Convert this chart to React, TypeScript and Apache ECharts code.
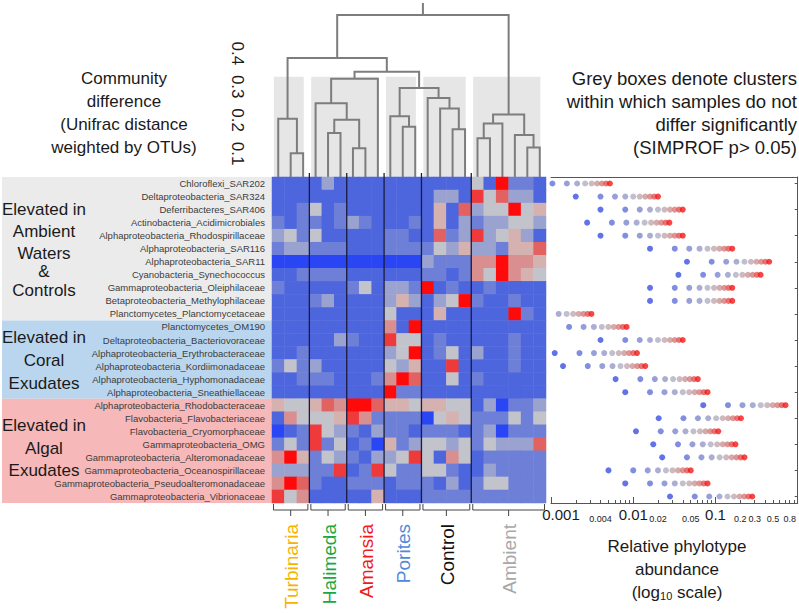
import React, { useEffect, useRef } from 'react';
import * as echarts from 'echarts';

const FONT = '"Liberation Sans", Arial, sans-serif';

// ---------- data ----------
const rowNames = [
  'Chloroflexi_SAR202', 'Deltaproteobacteria_SAR324', 'Deferribacteres_SAR406', 'Actinobacteria_Acidimicrobiales',
  'Alphaproteobacteria_Rhodospirillaceae', 'Alphaproteobacteria_SAR116', 'Alphaproteobacteria_SAR11',
  'Cyanobacteria_Synechococcus', 'Gammaproteobacteria_Oleiphilaceae', 'Betaproteobacteria_Methylophilaceae',
  'Planctomycetes_Planctomycetaceae',
  'Planctomycetes_OM190', 'Deltaproteobacteria_Bacteriovoraceae', 'Alphaproteobacteria_Erythrobacteraceae',
  'Alphaproteobacteria_Kordiimonadaceae', 'Alphaproteobacteria_Hyphomonadaceae', 'Alphaproteobacteria_Sneathiellaceae',
  'Alphaproteobacteria_Rhodobacteraceae', 'Flavobacteria_Flavobacteriaceae', 'Flavobacteria_Cryomorphaceae',
  'Gammaproteobacteria_OMG', 'Gammaproteobacteria_Alteromonadaceae', 'Gammaproteobacteria_Oceanospirillaceae',
  'Gammaproteobacteria_Pseudoalteromonadaceae', 'Gammaproteobacteria_Vibrionaceae',
];

const treatmentNames = ['Turbinaria', 'Halimeda', 'Amansia', 'Porites', 'Control', 'Ambient'];
const treatmentColors = ['#f5b400', '#1aa845', '#f01c1c', '#4f8ad8', '#111111', '#a8a8a8'];
const treatmentSizes = [3, 3, 3, 3, 4, 6];

const blockLines = [
  ['Elevated in', 'Ambient', 'Waters', '&', 'Controls'],
  ['Elevated in', 'Coral', 'Exudates'],
  ['Elevated in', 'Algal', 'Exudates'],
];
const blockRowCounts = [11, 6, 8];
const blockColors = ['#ebebeb', '#b9d6ee', '#f6b8b8'];

// heatmap levels: 1 = deep blue ... 5 = grey ... 10 = red
const ambientLevels = [
  [2, 2, 2, 2, 4, 2, 2, 2, 2, 2, 2, 2, 2, 2, 2, 2, 5, 2, 10, 3, 3, 2],
  [2, 2, 2, 2, 2, 2, 2, 2, 2, 2, 2, 2, 2, 4, 4, 2, 9, 5, 8, 4, 4, 2],
  [2, 2, 3, 5, 2, 3, 2, 2, 2, 2, 2, 2, 2, 6, 2, 8, 4, 5, 5, 10, 5, 6],
  [3, 2, 3, 3, 2, 3, 4, 3, 2, 2, 2, 3, 2, 6, 2, 4, 3, 4, 4, 5, 5, 4],
  [4, 5, 3, 5, 2, 2, 2, 2, 2, 3, 3, 2, 2, 8, 3, 4, 9, 4, 5, 6, 4, 2],
  [3, 4, 4, 3, 3, 3, 2, 2, 2, 3, 3, 3, 3, 5, 4, 6, 4, 4, 3, 6, 6, 8],
  [1, 1, 1, 1, 1, 1, 1, 1, 1, 1, 1, 1, 4, 3, 3, 3, 7, 7, 10, 7, 7, 6],
  [2, 2, 3, 3, 3, 3, 2, 2, 2, 2, 2, 2, 3, 3, 2, 3, 7, 5, 10, 7, 6, 5],
  [3, 2, 2, 2, 2, 2, 3, 5, 2, 4, 4, 3, 10, 2, 3, 2, 2, 3, 2, 2, 2, 2],
  [2, 2, 2, 3, 4, 2, 2, 2, 2, 4, 6, 4, 2, 4, 5, 10, 3, 2, 2, 3, 2, 2],
  [2, 2, 2, 2, 2, 2, 2, 2, 2, 5, 2, 2, 2, 6, 2, 2, 2, 2, 2, 10, 3, 2],
];
const coralLevels = [
  [2, 2, 2, 2, 2, 2, 2, 2, 2, 7, 2, 10, 2, 2, 2, 2, 2, 2, 2, 2, 2, 2],
  [2, 2, 2, 2, 2, 4, 3, 2, 2, 9, 5, 5, 2, 3, 2, 2, 2, 2, 2, 3, 2, 2],
  [2, 2, 3, 2, 2, 2, 2, 2, 2, 4, 5, 10, 2, 3, 5, 2, 4, 2, 2, 3, 2, 2],
  [3, 5, 3, 4, 2, 2, 2, 2, 2, 5, 4, 6, 2, 2, 9, 2, 2, 2, 2, 3, 2, 2],
  [2, 2, 3, 3, 3, 2, 2, 2, 3, 7, 10, 8, 2, 2, 5, 2, 3, 2, 2, 2, 2, 2],
  [2, 2, 2, 2, 2, 2, 2, 2, 2, 10, 3, 3, 2, 2, 2, 2, 2, 2, 2, 2, 2, 2],
];
const algalLevels = [
  [6, 5, 5, 6, 8, 7, 10, 10, 8, 6, 6, 5, 6, 6, 5, 5, 2, 4, 1, 3, 3, 4],
  [2, 7, 5, 5, 5, 6, 9, 7, 3, 3, 3, 3, 1, 5, 6, 5, 3, 3, 3, 5, 3, 5],
  [1, 2, 3, 9, 5, 4, 3, 2, 4, 3, 3, 2, 3, 3, 3, 2, 3, 4, 1, 3, 3, 3],
  [3, 5, 3, 9, 3, 5, 2, 3, 1, 6, 3, 4, 5, 5, 4, 5, 3, 5, 4, 4, 4, 8],
  [7, 10, 6, 3, 5, 4, 3, 2, 4, 4, 5, 9, 5, 2, 7, 5, 2, 3, 3, 3, 3, 3],
  [4, 4, 4, 3, 3, 9, 2, 3, 9, 5, 3, 3, 5, 5, 3, 2, 2, 4, 3, 3, 3, 3],
  [7, 10, 8, 3, 2, 2, 3, 3, 3, 2, 3, 3, 3, 2, 4, 2, 3, 5, 5, 3, 3, 3],
  [9, 5, 7, 2, 2, 2, 2, 2, 6, 2, 2, 2, 3, 3, 3, 3, 3, 3, 3, 3, 3, 3],
];
const levelColors = ['#2a46f4', '#4d65dd', '#6d7fd6', '#9aa2d0', '#c3c3cb', '#d5b1b0', '#d98f8f', '#e26262', '#ee3a3a', '#ff0a0a'];

// dendrogram merges (leaves 0..21, new nodes 22..), height = Unifrac distance
const merges: [number, number, number][] = [
  [1, 2, 0.071], [0, 22, 0.174],
  [4, 5, 0.132], [6, 7, 0.086], [24, 25, 0.171], [3, 26, 0.221], [27, 8, 0.294],
  [10, 11, 0.15], [9, 29, 0.182], [14, 15, 0.143], [13, 31, 0.205], [12, 32, 0.236], [30, 33, 0.266],
  [28, 34, 0.315], [23, 35, 0.356],
  [16, 17, 0.116], [37, 18, 0.16], [20, 21, 0.088], [19, 39, 0.126], [38, 40, 0.187],
  [36, 41, 0.485],
];
const simprofClusters = [[0, 2], [3, 8], [9, 11], [12, 15], [16, 21]];
const simprofTop = 0.3;
const dendroTicks = [0.1, 0.2, 0.3, 0.4];

// lowest relative abundance shown per row (dots run linearly from 1x to 10x)
const rowMinAbundance = [
  0.00052, 0.0020, 0.0040, 0.00275, 0.0040, 0.016, 0.045, 0.0354, 0.016, 0.016, 0.00031,
  0.00083, 0.0040, 0.00111, 0.0014, 0.0061, 0.0080,
  0.071, 0.0204, 0.0108, 0.0175, 0.0225, 0.0050, 0.0080, 0.028,
];
const dotSteps = [1, 2, 3, 4, 5, 6, 7, 8, 9, 10];
const dotColors = ['#3b50e2', '#6170d8', '#7d87d0', '#9699c8', '#afafc2', '#c2a7ae', '#cb9595', '#d67a7a', '#e35252', '#f41818'];
const abundanceLabels = [0.001, 0.004, 0.01, 0.02, 0.05, 0.1, 0.2, 0.3, 0.5, 0.8];
const abundanceMajor = [0.001, 0.01, 0.1, 1];
const abundanceMinor = [1, 2, 3, 4, 5, 6, 7, 8, 9];

// ---------- layout ----------
const HM_L = 272, HM_T = 177, HM_W = 274, HM_H = 326;
const DOT_L = 551, DECADE = 85;
const DENDRO_MAX = HM_T / 340;

export default function App() {
  const ref = useRef<HTMLDivElement>(null);
  useEffect(() => {
    if (!ref.current) return;
    const chart = echarts.init(ref.current, null, { renderer: 'svg' });

    const nCols = treatmentSizes.reduce((a, b) => a + b, 0);
    const levels = [...ambientLevels, ...coralLevels, ...algalLevels];
    const heatData: number[][] = [];
    levels.forEach((row, r) => row.forEach((v, c) => heatData.push([c, r, v])));

    const nodeX: number[] = [], nodeH: number[] = [];
    for (let i = 0; i < nCols; i++) { nodeX.push(i + 0.5); nodeH.push(0); }
    const links: number[][] = [];
    merges.forEach(([a, b, h]) => {
      links.push([nodeX[a], nodeX[b], h, nodeH[a], nodeH[b]]);
      nodeX.push((nodeX[a] + nodeX[b]) / 2);
      nodeH.push(h);
    });
    const rootX = nodeX[nodeX.length - 1], rootH = nodeH[nodeH.length - 1];

    const boundaries: number[][] = [];
    const groups: number[][] = [];
    let acc = 0;
    treatmentSizes.forEach((s, i) => {
      groups.push([acc, acc + s - 1, i]);
      acc += s;
      if (i < treatmentSizes.length - 1) boundaries.push([acc, 0]);
    });

    const dots: any[] = [];
    rowMinAbundance.forEach((m, r) => {
      dotSteps.forEach((k, i) => {
        const lx = Math.log10(m * k);
        if (lx >= -3.02) dots.push({ value: [lx, r], itemStyle: { color: dotColors[i] } });
      });
    });

    const minorTicks: number[] = [];
    for (let d = -3; d < 0; d++) abundanceMinor.forEach((k) => minorTicks.push(Math.log10(k * Math.pow(10, d))));
    minorTicks.push(0);
    const labelVals = abundanceLabels.map((v) => Math.log10(v));

    const rowH = HM_H / rowNames.length;
    const graphic: any[] = [];
    let r0 = 0;
    blockRowCounts.forEach((n, bi) => {
      const y0 = HM_T + r0 * rowH;
      graphic.push({ type: 'rect', z: -10, shape: { x: 2, y: y0, width: HM_L - 2, height: n * rowH }, style: { fill: blockColors[bi] } });
      r0 += n;
    });
    const blockTextY = [[209, 231, 253, 271, 290], [337, 360, 383], [425, 448, 470]];
    blockLines.forEach((lines, bi) => {
      lines.forEach((t, li) => {
        graphic.push({ type: 'text', x: 44, y: blockTextY[bi][li], style: { text: t, fill: '#1a1a1a', fontSize: 17, fontFamily: FONT, align: 'center', verticalAlign: 'middle' } });
      });
    });
    const leftTop = ['Community', 'difference', '(Unifrac distance', 'weighted by OTUs)'];
    leftTop.forEach((t, i) => graphic.push({ type: 'text', x: 124, y: 78 + i * 23, style: { text: t, fill: '#1a1a1a', fontSize: 17, fontFamily: FONT, align: 'center', verticalAlign: 'middle' } }));
    const rightTop = ['Grey boxes denote clusters', 'within which samples do not', 'differ significantly', '(SIMPROF p> 0.05)'];
    rightTop.forEach((t, i) => graphic.push({ type: 'text', x: 797, y: 78 + i * 23, style: { text: t, fill: '#1a1a1a', fontSize: 18.5, fontFamily: FONT, align: 'right', verticalAlign: 'middle' } }));
    graphic.push({ type: 'text', x: 677, y: 546, style: { text: 'Relative phylotype', fill: '#1a1a1a', fontSize: 17, fontFamily: FONT, align: 'center', verticalAlign: 'middle' } });
    graphic.push({ type: 'text', x: 677, y: 569, style: { text: 'abundance', fill: '#1a1a1a', fontSize: 17, fontFamily: FONT, align: 'center', verticalAlign: 'middle' } });
    graphic.push({
      type: 'text', x: 677, y: 592,
      style: {
        text: '(log{sub|10} scale)', fill: '#1a1a1a', fontSize: 17, fontFamily: FONT, align: 'center', verticalAlign: 'middle',
        rich: { sub: { fontSize: 11, fontFamily: FONT, fill: '#1a1a1a', padding: [8, 0, 0, 0] } },
      },
    });

    const option: any = {
      animation: false,
      backgroundColor: '#ffffff',
      textStyle: { fontFamily: FONT },
      grid: [
        { left: HM_L, top: 0, width: HM_W, height: HM_T },
        { left: HM_L, top: HM_T, width: HM_W, height: HM_H },
        { left: DOT_L, top: HM_T, width: DECADE * 3, height: HM_H },
      ],
      xAxis: [
        { gridIndex: 0, type: 'value', min: 0, max: nCols, show: false },
        { gridIndex: 1, type: 'category', data: Array.from({ length: nCols }, (_, i) => String(i)), show: false },
        {
          gridIndex: 2, type: 'value', min: -3, max: 0, position: 'bottom',
          axisLine: { show: true, lineStyle: { color: '#555', width: 1 } },
          axisTick: { show: true, inside: true, length: 3, customValues: minorTicks, lineStyle: { color: '#555' } },
          splitLine: { show: false },
          axisLabel: {
            show: true, margin: 4, customValues: labelVals, color: '#1a1a1a',
            formatter: (v: number) => {
              const idx = labelVals.findIndex((t) => Math.abs(t - v) < 1e-6);
              if (idx < 0) return '';
              const t = abundanceLabels[idx];
              if (idx === 0) return '{f|' + t + '}';
              return abundanceMajor.some((m) => Math.abs(m - t) < 1e-9) ? '{b|' + t + '}' : '{s|' + t + '}';
            },
            rich: {
              f: { fontSize: 15, fontFamily: FONT, color: '#1a1a1a', padding: [0, 0, 0, 20] },
              b: { fontSize: 15, fontFamily: FONT, color: '#1a1a1a' },
              s: { fontSize: 9, fontFamily: FONT, color: '#1a1a1a', lineHeight: 16, verticalAlign: 'bottom' },
            },
          },
        },
        {
          gridIndex: 2, type: 'value', min: -3, max: 0, position: 'bottom',
          axisLine: { show: false }, axisLabel: { show: false }, splitLine: { show: false },
          axisTick: { show: true, inside: true, length: 6, customValues: abundanceMajor.map((v) => Math.log10(v)), lineStyle: { color: '#555' } },
        },
        {
          gridIndex: 2, type: 'value', min: -3, max: 0, position: 'top',
          axisLine: { show: true, lineStyle: { color: '#555' } }, axisTick: { show: false }, axisLabel: { show: false }, splitLine: { show: false },
        },
      ],
      yAxis: [
        {
          gridIndex: 0, type: 'value', min: 0, max: DENDRO_MAX, interval: 0.1,
          axisLine: { show: false }, axisTick: { show: false }, splitLine: { show: false },
          axisLabel: {
            rotate: -90, margin: 26, fontSize: 17, color: '#1a1a1a', fontFamily: FONT, padding: [0, 0, 0, 20],
            formatter: (v: number) => {
              const m = dendroTicks.find((t) => Math.abs(t - v) < 1e-6);
              return m !== undefined ? m.toFixed(1) : '';
            },
          },
        },
        {
          gridIndex: 1, type: 'category', data: rowNames, inverse: true,
          axisLine: { show: false }, axisTick: { show: false },
          axisLabel: { fontSize: 9.5, color: '#3c3c3c', margin: 7, fontFamily: FONT },
        },
        {
          gridIndex: 2, type: 'category', data: rowNames, inverse: true,
          axisLine: { show: true, lineStyle: { color: '#555' } },
          axisTick: { show: true, length: 3, alignWithLabel: true, lineStyle: { color: '#555' } },
          axisLabel: { show: false },
        },
      ],
      visualMap: {
        type: 'continuous', show: false, min: 1, max: 10, seriesIndex: 3, dimension: 2,
        inRange: { color: levelColors },
      },
      series: [
        {
          type: 'custom', xAxisIndex: 0, yAxisIndex: 0, z: 1,
          data: simprofClusters.map(([a, b]) => [a, b]),
          renderItem: (_p: any, api: any) => {
            const a = api.value(0), b = api.value(1);
            const p0 = api.coord([a + 0.15, simprofTop]);
            const p1 = api.coord([b + 0.55, 0]);
            return { type: 'rect', shape: { x: p0[0], y: p0[1], width: p1[0] - p0[0], height: p1[1] - p0[1] }, style: { fill: '#e6e6e6' } };
          },
        },
        {
          type: 'custom', xAxisIndex: 0, yAxisIndex: 0, z: 2,
          data: links,
          renderItem: (_p: any, api: any) => {
            const xl = api.value(0), xr = api.value(1), h = api.value(2), hl = api.value(3), hr = api.value(4);
            return {
              type: 'polyline',
              shape: { points: [api.coord([xl, hl]), api.coord([xl, h]), api.coord([xr, h]), api.coord([xr, hr])] },
              style: { stroke: '#7d7d7d', lineWidth: 2, fill: 'none' },
            };
          },
        },
        {
          type: 'line', xAxisIndex: 0, yAxisIndex: 0, z: 2, symbol: 'none',
          data: [[rootX, rootH], [rootX, DENDRO_MAX]],
          lineStyle: { color: '#7d7d7d', width: 2 },
        },
        {
          type: 'heatmap', xAxisIndex: 1, yAxisIndex: 1, data: heatData,
          itemStyle: { borderWidth: 0 },
        },
        {
          type: 'custom', xAxisIndex: 1, yAxisIndex: 1, z: 5,
          data: boundaries,
          renderItem: (_p: any, api: any) => {
            const b = api.value(0);
            const sz = api.size([1, 1]);
            const top = api.coord([b, 0]);
            const bot = api.coord([b, rowNames.length - 1]);
            const x = top[0] - sz[0] / 2;
            return { type: 'line', shape: { x1: x, y1: top[1] - sz[1] / 2 - 4, x2: x, y2: bot[1] + sz[1] / 2 }, style: { stroke: '#1c1c3c', lineWidth: 1.3 } };
          },
        },
        {
          type: 'custom', xAxisIndex: 1, yAxisIndex: 1, z: 5,
          data: groups,
          renderItem: (_p: any, api: any) => {
            const a = api.value(0), b = api.value(1), gi = api.value(2);
            const sz = api.size([1, 1]);
            const pa = api.coord([a, rowNames.length - 1]);
            const pb = api.coord([b, rowNames.length - 1]);
            const yb = pa[1] + sz[1] / 2 + 1;
            const xl = pa[0] - sz[0] / 2 + 1.5, xr = pb[0] + sz[0] / 2 - 1.5;
            const cx = (xl + xr) / 2;
            return {
              type: 'group',
              children: [
                { type: 'polyline', shape: { points: [[xl, yb], [xl, yb + 6], [xr, yb + 6], [xr, yb]] }, style: { stroke: '#444', lineWidth: 1, fill: 'none' } },
                { type: 'line', shape: { x1: cx, y1: yb + 6, x2: cx, y2: yb + 12 }, style: { stroke: '#444', lineWidth: 1 } },
                {
                  type: 'text', x: cx + 1, y: yb + 20, rotation: Math.PI / 2,
                  style: { text: treatmentNames[gi], fill: treatmentColors[gi], fontSize: 19, fontFamily: FONT, align: 'right', verticalAlign: 'middle' },
                },
              ],
            };
          },
        },
        {
          type: 'scatter', xAxisIndex: 2, yAxisIndex: 2, symbolSize: 6, z: 4,
          data: dots,
        },
      ],
      graphic,
    };
    chart.setOption(option);
    return () => chart.dispose();
  }, []);
  return <div ref={ref} style={{ position: 'absolute', left: 0, top: 0, width: 799, height: 613 }} />;
}
